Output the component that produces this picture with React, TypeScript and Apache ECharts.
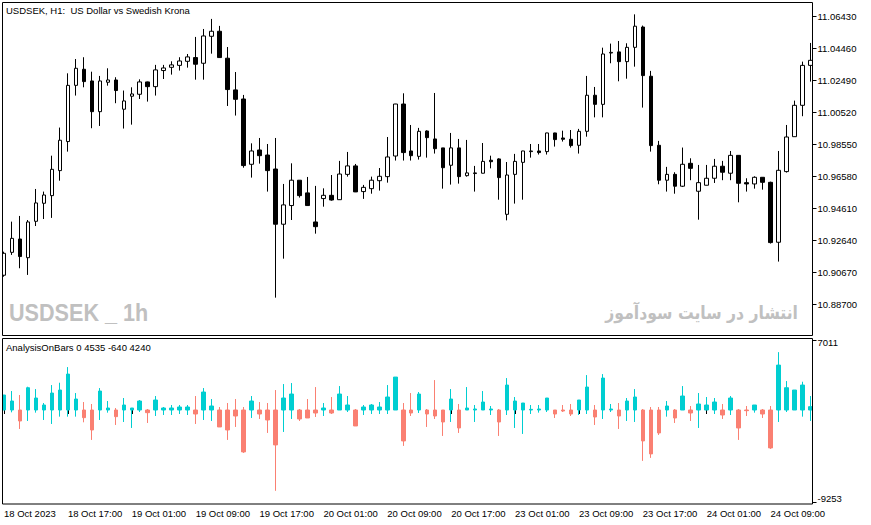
import React, { useEffect, useRef } from "react";
import * as echarts from "echarts";

// ---- price candles (USDSEK, H1) ----
const PRICE_OPEN = [
  10.9049, 10.919, 10.9272, 10.9157, 10.9381, 10.9492, 10.9539, 10.9693, 10.9872, 11.0218,
  11.0317, 11.0245, 11.0056, 11.0237, 11.0251, 11.0071, 11.0151, 11.0163, 11.0239, 11.021,
  11.0309, 11.0329, 11.0341, 11.0366, 11.0389, 11.0354, 11.052, 11.0551, 11.0385, 11.019,
  11.0134, 10.9732, 10.982, 10.9789, 10.9703, 10.9363, 10.9478, 10.9634, 10.9556, 10.9377,
  10.9521, 10.9541, 10.9514, 10.967, 10.9722, 10.9564, 10.9582, 10.9631, 10.9656, 10.9783,
  11.0103, 10.9814, 10.9781, 10.9937, 10.9888, 10.9833, 10.9726, 10.9833, 10.9662, 10.9675,
  10.9677, 10.9757, 10.9765, 10.9424, 10.967, 10.9744, 10.981, 10.9814, 10.981, 10.9925,
  10.9894, 10.9886, 10.9849, 10.9935, 11.0157, 11.0101, 11.0417, 11.0424, 11.0364, 11.0452,
  11.0577, 11.0274, 10.9849, 10.9634, 10.967, 10.9597, 10.9738, 10.9566, 10.9603, 10.9646,
  10.972, 10.9677, 10.9787, 10.9619, 10.9611, 10.9652, 10.9621, 10.9252, 10.9687, 10.9902,
  11.0095, 11.0341,
];
const PRICE_CLOSE = [
  10.9184, 10.9276, 10.9164, 10.9377, 10.9494, 10.9543, 10.9701, 10.988, 11.0218, 11.0323,
  11.0241, 11.0056, 11.0245, 11.0251, 11.0186, 11.0122, 11.0165, 11.0239, 11.021, 11.0313,
  11.0325, 11.0344, 11.0368, 11.0393, 11.0348, 11.0522, 11.0551, 11.0389, 11.0192, 11.0132,
  10.9724, 10.9814, 10.9785, 10.9693, 10.9363, 10.9482, 10.9634, 10.9539, 10.9478, 10.9348,
  10.9541, 10.9512, 10.9672, 10.9722, 10.9562, 10.959, 10.9634, 10.9658, 10.9777, 11.0103,
  10.9804, 10.9785, 10.9935, 10.9896, 10.9828, 10.9711, 10.9833, 10.9656, 10.9679, 10.9679,
  10.975, 10.9748, 10.965, 10.9666, 10.975, 10.9814, 10.9814, 10.9804, 10.9925, 10.9884,
  10.9886, 10.9847, 10.9935, 11.0157, 11.0101, 11.0411, 11.0421, 11.0364, 11.0452, 11.0582,
  11.0278, 10.9847, 10.9634, 10.967, 10.9597, 10.9732, 10.9707, 10.9619, 10.9646, 10.972,
  10.9683, 10.9787, 10.9615, 10.9611, 10.9652, 10.9621, 10.925, 10.9695, 10.99, 11.0095,
  11.0341, 11.0372,
];
const PRICE_LOW = [
  10.904, 10.9174, 10.9092, 10.9051, 10.9352, 10.9395, 10.9402, 10.9631, 10.981, 11.0155,
  11.0206, 10.9954, 10.9968, 11.0216, 11.0108, 10.9952, 10.9976, 11.0134, 11.0118, 11.0155,
  11.0257, 11.0284, 11.0309, 11.0327, 11.0253, 11.0253, 11.0413, 11.0388, 11.0091, 11.0032,
  10.9711, 10.965, 10.9736, 10.9564, 10.8911, 10.9151, 10.9389, 10.9527, 10.9477, 10.9305,
  10.9471, 10.9508, 10.9513, 10.9656, 10.9561, 10.9519, 10.9551, 10.957, 10.9619, 10.9755,
  10.9755, 10.9755, 10.9761, 10.9773, 10.9798, 10.9582, 10.9607, 10.9613, 10.9656, 10.9564,
  10.9676, 10.9707, 10.9514, 10.9387, 10.949, 10.9514, 10.9773, 10.9792, 10.9792, 10.9841,
  10.9872, 10.9835, 10.9798, 10.9902, 11.0021, 11.0021, 11.0354, 11.0243, 11.0259, 11.0333,
  11.0081, 10.981, 10.9609, 10.9564, 10.9551, 10.9592, 10.9634, 10.9391, 10.9602, 10.9617,
  10.9634, 10.9634, 10.9498, 10.9564, 10.9582, 10.9576, 10.9244, 10.9133, 10.9681, 10.9902,
  11.0028, 11.0241,
];
const PRICE_HIGH = [
  10.9194, 10.9379, 10.9414, 10.9389, 10.958, 10.9564, 10.9785, 10.9958, 11.0292, 11.038,
  11.0391, 11.0302, 11.0276, 11.0323, 11.0268, 11.0186, 11.0206, 11.0255, 11.0241, 11.0344,
  11.0344, 11.0366, 11.0391, 11.0411, 11.0516, 11.0565, 11.0627, 11.0584, 11.0454, 11.03,
  11.0159, 10.9861, 10.9894, 10.9857, 10.9894, 10.9611, 10.9738, 10.9634, 10.9654, 10.9599,
  10.9584, 10.9666, 10.9753, 10.9808, 10.9734, 10.9605, 10.9656, 10.9709, 10.99, 11.0104,
  11.0169, 10.9974, 10.9956, 10.9941, 11.0171, 10.9833, 10.9925, 10.9888, 10.9882, 10.9722,
  10.9863, 10.9785, 10.9769, 10.9746, 10.9796, 10.9815, 10.9857, 10.9857, 10.9926, 10.9926,
  10.9939, 10.9943, 10.995, 11.0276, 11.0208, 11.045, 11.0475, 11.0491, 11.0477, 11.0655,
  11.0586, 11.0307, 10.9876, 10.9716, 10.9683, 10.9835, 10.9769, 10.9728, 10.9728, 10.9765,
  10.9753, 10.9814, 10.9788, 10.9646, 10.9658, 10.9653, 10.9625, 10.9814, 10.9974, 11.0124,
  11.0364, 11.0479,
];

// ---- AnalysisOnBars indicator (each bar opens at 0) ----
const HIST_VALUE = [
  1497, 898, -1098, 2228, 1197, 499, 1696, 1996, 3592, 1098,
  -765, -1996, 1896, 200, -665, 499, 200, 898, -266, 998,
  200, 200, 299, 299, -399, 1796, 399, -1696, -1996, -599,
  -4191, 898, -399, -998, -3492, 1197, 1596, -898, -798, -299,
  200, -299, 1596, 499, -1596, 299, 499, 299, 1297, 3293,
  -3093, -299, 1596, -399, -599, -1197, 1098, -1796, 200, 100,
  798, 100, -1197, 2495, 898, 698, 67, 100, 1197, -399,
  -100, -399, 998, 2295, -698, 3193, 100, -599, 898, 1297,
  -3093, -4390, -2295, 399, -798, 1397, -299, 599, 499, 798,
  -499, 1197, -1796, -67, 499, -399, -3792, 4490, 2228, 1996,
  2495, 333,
];
const HIST_LOW = [
  0, -233, -1896, -1098, -266, -998, -1397, -665, -665, -665,
  -1231, -2993, -998, -266, -1497, -1197, -1796, -200, -1297, -599,
  -499, -499, -399, -499, -1397, -998, -1098, -1696, -2993, -1696,
  -4291, -798, -898, -2295, -8082, -2195, -898, -1098, -798, -698,
  -599, -399, 0, -200, -1596, -499, -399, -399, -399, 0,
  -3592, -599, -299, -1696, -898, -2594, -1197, -2295, 0, -1197,
  0, -499, -2594, -499, -1796, -2395, -399, -266, -200, -798,
  -200, -599, -499, -399, -1497, -898, -200, -1896, -1098, -1197,
  -5089, -4789, -2495, -665, -1297, 0, -1098, -1796, 0, -399,
  -898, -499, -2993, -599, -266, -798, -3891, -1197, -200, 0,
  -665, -1098,
];
const HIST_HIGH = [
  1497, 1896, 1497, 2328, 2095, 698, 2495, 2727, 4291, 1696,
  798, 599, 2195, 898, 200, 1197, 200, 998, 100, 1397,
  299, 499, 499, 499, 1397, 2195, 1098, 299, 698, 1098,
  299, 1397, 798, 698, 1996, 2594, 2694, 100, 1098, 2295,
  698, 1297, 2395, 1397, 100, 499, 599, 798, 2495, 3293,
  698, 1696, 1796, 100, 2993, 0, 2095, 599, 2295, 499,
  1896, 399, 100, 3193, 1297, 698, 499, 499, 1197, 0,
  499, 599, 998, 3492, 499, 3592, 599, 698, 1197, 2095,
  100, 299, 299, 898, 100, 2395, 399, 1696, 1297, 1197,
  599, 1397, 100, 399, 499, 100, 399, 5787, 2894, 1996,
  2827, 1397,
];

// ---- axis ticks ----
const PRICE_TICKS = [10.887, 10.9067, 10.9264, 10.9461, 10.9658, 10.9855, 11.0052, 11.0249, 11.0446, 11.0643];
const HIST_TICKS = [-9253, 7011];
const TIME_TICK_LABELS = [
  "18 Oct 2023", "18 Oct 17:00", "19 Oct 01:00", "19 Oct 09:00", "19 Oct 17:00",
  "20 Oct 01:00", "20 Oct 09:00", "20 Oct 17:00", "23 Oct 01:00", "23 Oct 09:00",
  "23 Oct 17:00", "24 Oct 01:00", "24 Oct 09:00",
];

const TITLE = "USDSEK, H1:  US Dollar vs Swedish Krona";
const INDICATOR_LABEL = "AnalysisOnBars 0 4535 -640 4240";
const WATERMARK_LEFT = "USDSEK _ 1h";
const WATERMARK_RIGHT = "انتشار در سایت سودآموز";

// hourly bar times from 18 Oct 09:00, the market closed over the weekend (21-22 Oct)
function buildTimes(n: number): string[] {
  const out: string[] = [];
  let day = 18;
  let hour = 9;
  for (let i = 0; i < n; i++) {
    out.push(`${day} Oct ${String(hour).padStart(2, "0")}:00`);
    hour++;
    if (hour === 24) {
      hour = 0;
      day++;
      if (day === 21) day = 23;
    }
  }
  return out;
}

const FONT = '"Liberation Sans", Arial, sans-serif';

export default function App() {
  const ref = useRef<HTMLDivElement>(null);

  useEffect(() => {
    if (!ref.current) return;
    const chart = echarts.init(ref.current, undefined, { renderer: "svg" });
    const times = buildTimes(PRICE_OPEN.length);
    const priceData = PRICE_OPEN.map((o, i) => [o, PRICE_CLOSE[i], PRICE_LOW[i], PRICE_HIGH[i]]);
    const histData = HIST_VALUE.map((v, i) => [0, v, HIST_LOW[i], HIST_HIGH[i]]);
    const labelStyle = { color: "#000", fontFamily: FONT, fontSize: 9.5 };

    chart.setOption({
      animation: false,
      backgroundColor: "#fff",
      grid: [
        { left: -1.5, top: 2.5, width: 816, height: 333 },
        { left: -1.5, top: 338.5, width: 816, height: 165.5 },
      ],
      xAxis: [
        {
          type: "category",
          gridIndex: 0,
          data: times,
          boundaryGap: true,
          axisLine: { show: false },
          axisTick: { show: false },
          axisLabel: { show: false },
          splitLine: { show: false },
        },
        {
          type: "category",
          gridIndex: 1,
          data: times,
          boundaryGap: true,
          axisLine: { show: false },
          axisTick: {
            show: true,
            alignWithLabel: true,
            interval: 7,
            length: 4,
            lineStyle: { color: "#000", width: 1 },
          },
          axisLabel: {
            ...labelStyle,
            interval: 7,
            align: "left",
            margin: 4,
            formatter: (_v: string, idx: number) => (idx % 8 === 0 ? TIME_TICK_LABELS[idx / 8] : ""),
          },
          splitLine: { show: false },
        },
      ],
      yAxis: [
        {
          type: "value",
          gridIndex: 0,
          position: "right",
          offset: -2,
          min: 10.8678,
          max: 11.0728,
          splitLine: { show: false },
          axisLine: { show: false },
          axisTick: {
            show: true,
            length: 4,
            customValues: PRICE_TICKS,
            lineStyle: { color: "#000", width: 1 },
          },
          axisLabel: {
            ...labelStyle,
            customValues: PRICE_TICKS,
            margin: 5,
            formatter: (v: number) => v.toFixed(5),
          },
        },
        {
          type: "value",
          gridIndex: 1,
          position: "right",
          offset: -2,
          min: -9400,
          max: 7150,
          splitLine: { show: false },
          axisLine: { show: false },
          axisTick: {
            show: true,
            length: 4,
            customValues: HIST_TICKS,
            lineStyle: { color: "#000", width: 1 },
          },
          axisLabel: {
            ...labelStyle,
            customValues: HIST_TICKS,
            margin: 5,
            formatter: (v: number) => (v > 0 ? `{t|${v}}` : `{b|${v}}`),
            rich: {
              t: { ...labelStyle, padding: [5, 0, 0, 0] },
              b: { ...labelStyle, padding: [0, 0, 8, 0] },
            },
          },
        },
      ],
      series: [
        {
          type: "candlestick",
          xAxisIndex: 0,
          yAxisIndex: 0,
          data: priceData,
          barWidth: 4,
          silent: true,
          clip: true,
          itemStyle: {
            color: "#ffffff",
            color0: "#000000",
            borderColor: "#000000",
            borderColor0: "#000000",
            borderColorDoji: "#000000",
            borderWidth: 1,
          },
        },
        {
          type: "candlestick",
          xAxisIndex: 1,
          yAxisIndex: 1,
          data: histData,
          barWidth: 4,
          silent: true,
          clip: true,
          itemStyle: {
            color: "#00CED1",
            color0: "#FA8072",
            borderColor: "#00CED1",
            borderColor0: "#FA8072",
            borderWidth: 1,
          },
        },
      ],
      graphic: [
        { type: "rect", z: 100, shape: { x: 0, y: 0, width: 2, height: 525 }, style: { fill: "#fff" } },
        {
          type: "rect",
          z: 101,
          shape: { x: 2.5, y: 2.5, width: 810, height: 333 },
          style: { fill: "none", stroke: "#000", lineWidth: 1 },
        },
        {
          type: "rect",
          z: 101,
          shape: { x: 2.5, y: 338.5, width: 810, height: 165.5 },
          style: { fill: "none", stroke: "#000", lineWidth: 1 },
        },
        {
          type: "text",
          z: 102,
          x: 6,
          y: 10,
          style: { text: TITLE, fill: "#000", fontFamily: FONT, fontSize: 9.5, verticalAlign: "middle", align: "left" },
        },
        {
          type: "text",
          z: 102,
          x: 6,
          y: 347,
          style: { text: INDICATOR_LABEL, fill: "#000", fontFamily: FONT, fontSize: 9.5, verticalAlign: "middle", align: "left" },
        },
        {
          type: "text",
          z: 50,
          x: 9,
          y: 313,
          scaleX: 0.92,
          style: {
            text: WATERMARK_LEFT,
            fill: "#C0C0C0",
            fontFamily: FONT,
            fontWeight: "bold",
            fontSize: 23.5,
            verticalAlign: "middle",
            align: "left",
          },
        },
        {
          type: "text",
          z: 50,
          x: 798,
          y: 313,
          scaleX: 0.87,
          style: {
            text: WATERMARK_RIGHT,
            fill: "#C0C0C0",
            fontFamily: '"DejaVu Sans", "Noto Sans", sans-serif',
            fontWeight: "bold",
            fontSize: 18,
            verticalAlign: "middle",
            align: "right",
          },
        },
      ],
    });

    return () => {
      chart.dispose();
    };
  }, []);

  return (
    <div
      ref={ref}
      style={{ position: "absolute", left: 0, top: 0, width: 871, height: 525, background: "#fff" }}
    />
  );
}
